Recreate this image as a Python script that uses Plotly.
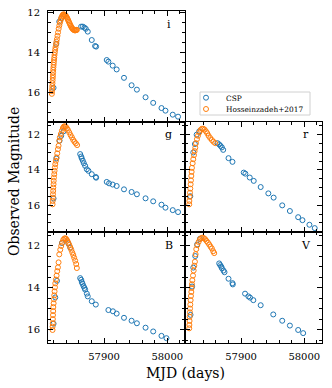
import plotly.graph_objects as go

CSP_COLOR = "#1f77b4"
HOS_COLOR = "#ff7f0e"
FONT = "DejaVu Serif"

# ---- i band
i_csp_mjd = [57820.1, 57824.5, 57829.1, 57832.2, 57863.7, 57866.4, 57869.0, 57871.1, 57874.2,
             57880.5, 57885.8, 57887.4, 57904.2, 57906.8, 57913.6, 57919.9, 57931.5, 57943.5,
             57951.9, 57965.6, 57977.7, 57990.8, 57997.1, 58008.6, 58017.0]
i_csp_mag = [15.75, 13.55, 12.44, 12.28, 12.69, 12.69, 12.74, 12.80, 12.94,
             13.36, 13.66, 13.69, 14.36, 14.44, 14.64, 14.83, 15.25, 15.62,
             15.84, 16.22, 16.50, 16.76, 16.89, 17.09, 17.19]
i_hos_mjd = [57817.4, 57817.6, 57817.9, 57818.1, 57818.4, 57818.6, 57818.9, 57819.1, 57819.4, 57819.6,
             57819.9, 57820.2, 57820.5, 57820.8, 57821.2, 57821.6, 57822.1, 57822.6, 57823.2, 57823.9,
             57824.6, 57825.4, 57826.3, 57827.2, 57828.2, 57829.2, 57830.2, 57831.2, 57832.2, 57833.2,
             57834.2, 57835.2, 57836.2, 57837.2, 57838.2, 57839.2, 57840.2, 57841.2, 57842.2, 57843.2,
             57844.2, 57845.2, 57846.2, 57847.2, 57848.2, 57849.2, 57850.2, 57851.2, 57852.2, 57853.2,
             57854.2, 57855.2, 57856.2, 57857.0]
i_hos_mag = [16.05, 15.92, 15.80, 15.66, 15.52, 15.38, 15.25, 15.12, 14.98, 14.85,
             14.72, 14.60, 14.48, 14.36, 14.24, 14.11, 13.98, 13.85, 13.72, 13.58,
             13.45, 13.32, 13.15, 12.98, 12.80, 12.64, 12.50, 12.38, 12.27, 12.19,
             12.13, 12.09, 12.08, 12.09, 12.11, 12.14, 12.19, 12.24, 12.30, 12.37,
             12.44, 12.51, 12.58, 12.65, 12.71, 12.76, 12.80, 12.83, 12.86, 12.87,
             12.88, 12.87, 12.86, 12.85]

# ---- g band
g_csp_mjd = [57820.1, 57824.5, 57829.6, 57832.2, 57835.9,
             57862.2, 57863.8, 57864.8, 57866.4, 57868.0, 57870.1, 57872.7, 57875.3, 57880.5,
             57886.9, 57887.4, 57904.2, 57907.9, 57913.6, 57919.9, 57931.5, 57943.5, 57951.9,
             57965.6, 57977.7, 57990.8, 57997.1, 58008.6, 58017.0]
g_csp_mag = [15.62, 13.35, 12.34, 12.06, 11.81,
             13.10, 13.24, 13.35, 13.48, 13.62, 13.77, 13.96, 14.05, 14.24,
             14.40, 14.44, 14.68, 14.76, 14.83, 14.91, 15.10, 15.25, 15.38,
             15.61, 15.78, 15.97, 16.14, 16.28, 16.39]
g_hos_mjd = [57818.5, 57818.7, 57819.0, 57819.2, 57819.5, 57819.7, 57820.1, 57820.3, 57820.7, 57821.2,
             57821.7, 57822.3, 57822.8, 57823.8, 57824.9, 57825.9, 57827.0, 57828.0, 57829.1, 57830.1,
             57831.7, 57833.3, 57834.9, 57836.4, 57838.0, 57839.6, 57841.2, 57842.8, 57844.9, 57847.0,
             57849.1, 57851.1, 57853.2, 57855.3, 57857.4]
g_hos_mag = [15.95, 15.76, 15.57, 15.38, 15.19, 15.00, 14.81, 14.62, 14.43, 14.24,
             14.05, 13.86, 13.67, 13.48, 13.29, 13.06, 12.82, 12.63, 12.34, 12.15,
             11.96, 11.77, 11.62, 11.54, 11.52, 11.56, 11.64, 11.73, 11.87, 12.02,
             12.15, 12.29, 12.40, 12.49, 12.59]

# ---- r band
r_csp_mjd = [57819.7, 57824.4, 57827.0, 57829.7, 57833.8,
             57862.7, 57865.4, 57867.5, 57869.6, 57871.7, 57880.1, 57886.4, 57904.2, 57906.8,
             57913.7, 57920.0, 57931.0, 57943.1, 57951.5, 57965.1, 57977.2, 57990.3, 57997.1,
             58008.1, 58016.5]
r_csp_mag = [15.49, 13.01, 12.53, 12.00, 11.81,
             12.48, 12.55, 12.63, 12.72, 12.86, 13.33, 13.54, 14.15, 14.21,
             14.43, 14.62, 14.97, 15.33, 15.57, 16.01, 16.33, 16.68, 16.85,
             17.11, 17.30]
r_hos_mjd = [57818.0, 57818.2, 57818.6, 57819.2, 57819.7, 57820.2, 57820.7, 57821.3, 57821.8, 57822.3,
             57823.4, 57824.4, 57825.5, 57826.5, 57827.6, 57828.6, 57830.2, 57831.8, 57833.9, 57836.0,
             57838.1, 57840.2, 57842.3, 57844.4, 57846.5, 57848.6, 57851.2, 57853.8, 57856.4, 57859.1]
r_hos_mag = [15.95, 15.76, 15.52, 15.29, 15.06, 14.81, 14.59, 14.34, 14.11, 13.88,
             13.62, 13.39, 13.16, 12.93, 12.74, 12.48, 12.25, 12.06, 11.87, 11.73,
             11.66, 11.66, 11.71, 11.81, 11.92, 12.06, 12.19, 12.30, 12.40, 12.48]

# ---- B band
B_csp_mjd = [57820.1, 57822.8, 57825.5, 57833.3, 57843.5, 57846.5,
             57862.2, 57863.8, 57864.8, 57865.9, 57867.5, 57869.0, 57870.1, 57872.7, 57874.2,
             57880.5, 57886.9, 57906.8, 57914.0, 57919.9, 57931.5, 57943.5, 57951.9, 57965.6,
             57977.7, 57990.8, 57998.7]
B_csp_mag = [15.72, 14.47, 13.68, 11.88, 11.90, 12.10,
             13.55, 13.63, 13.74, 13.82, 13.93, 14.02, 14.10, 14.29, 14.42,
             14.65, 14.81, 15.07, 15.13, 15.24, 15.44, 15.58, 15.70, 15.91,
             16.09, 16.30, 16.41]
B_hos_mjd = [57818.5, 57818.6, 57818.8, 57819.0, 57819.2, 57819.5, 57819.7, 57820.2, 57820.7, 57821.2,
             57821.7, 57822.3, 57822.8, 57823.8, 57824.9, 57825.9, 57827.0, 57828.0, 57829.1, 57830.7,
             57832.2, 57833.8, 57835.4, 57837.0, 57838.6, 57840.2, 57841.7, 57843.3, 57844.9, 57846.5,
             57848.1, 57849.7, 57851.3, 57852.7, 57854.3, 57855.9, 57856.9]
B_hos_mag = [16.02, 15.86, 15.70, 15.50, 15.31, 15.12, 14.93, 14.75, 14.56, 14.37,
             14.18, 13.99, 13.80, 13.62, 13.43, 13.22, 13.04, 12.80, 12.42, 12.20,
             12.02, 11.86, 11.73, 11.67, 11.65, 11.69, 11.76, 11.86, 11.97, 12.08,
             12.20, 12.33, 12.45, 12.58, 12.72, 12.88, 13.07]

# ---- V band
V_csp_mjd = [57820.0, 57822.5, 57824.4, 57827.5, 57830.5, 57835.0,
             57865.4, 57867.0, 57868.6, 57869.6, 57872.2, 57873.8, 57880.1, 57886.4, 57886.9,
             57906.3, 57911.6, 57914.2, 57919.4, 57931.0, 57950.9, 57965.1, 57977.2, 57990.3,
             57998.2]
V_csp_mag = [15.30, 13.95, 13.05, 12.50, 11.95, 11.68,
             12.85, 12.93, 13.00, 13.08, 13.19, 13.27, 13.58, 13.79, 13.85,
             14.29, 14.42, 14.48, 14.60, 14.84, 15.28, 15.58, 15.81, 16.02,
             16.17]
V_hos_mjd = [57818.0, 57818.2, 57818.5, 57818.7, 57819.1, 57819.3, 57819.7, 57820.2, 57820.7, 57821.3,
             57821.8, 57822.3, 57822.9, 57823.9, 57825.0, 57826.0, 57827.0, 57828.1, 57829.1, 57830.7,
             57832.8, 57834.9, 57837.0, 57839.1, 57841.2, 57843.3, 57845.4, 57847.5, 57849.6, 57851.7,
             57853.8, 57855.9, 57857.5]
V_hos_mag = [15.94, 15.78, 15.59, 15.39, 15.18, 15.00, 14.81, 14.60, 14.40, 14.21,
             14.02, 13.84, 13.65, 13.43, 13.19, 12.96, 12.77, 12.41, 12.17, 11.98,
             11.83, 11.70, 11.64, 11.62, 11.65, 11.70, 11.78, 11.86, 11.95, 12.05,
             12.14, 12.27, 12.36]

X_RANGE = [57811.3, 58028.0]
ROW_RANGES = [[17.44, 11.91], [17.54, 11.26], [16.64, 11.37]]

# band, x axis, y axis, row, column, data
panels = [
    ("i", "x", "y", 0, 0, i_csp_mjd, i_csp_mag, i_hos_mjd, i_hos_mag),
    ("g", "x2", "y2", 1, 0, g_csp_mjd, g_csp_mag, g_hos_mjd, g_hos_mag),
    ("r", "x3", "y3", 1, 1, r_csp_mjd, r_csp_mag, r_hos_mjd, r_hos_mag),
    ("B", "x4", "y4", 2, 0, B_csp_mjd, B_csp_mag, B_hos_mjd, B_hos_mag),
    ("V", "x5", "y5", 2, 1, V_csp_mjd, V_csp_mag, V_hos_mjd, V_hos_mag),
]

W, H = 332, 388
ML, MR, MT, MB = 48, 10, 11, 45
PW, PH = W - ML - MR, H - MT - MB


def px_x(px):
    return (px - ML) / PW


def px_y(py):
    return (H - MB - py) / PH


fig = go.Figure()
axis_common = dict(
    showline=True, linecolor="black", linewidth=1, mirror="allticks",
    ticks="inside", ticklen=5, tickwidth=1, tickcolor="black",
    showgrid=False, zeroline=False, automargin=False,
    tickfont=dict(family=FONT, size=10, color="black"),
)

for band, xa, ya, row, col, ct, cm, ht, hm in panels:
    fig.add_trace(go.Scatter(
        x=ct, y=cm, mode="markers", xaxis=xa, yaxis=ya, name="CSP",
        legend="legend", showlegend=(band == "i"),
        marker=dict(symbol="circle-open", size=5, color=CSP_COLOR, line=dict(width=1)),
    ))
    fig.add_trace(go.Scatter(
        x=ht, y=hm, mode="markers", xaxis=xa, yaxis=ya, name="Hosseinzadeh+2017",
        legend="legend2", showlegend=(band == "i"),
        marker=dict(symbol="circle-open", size=5, color=HOS_COLOR, line=dict(width=1)),
    ))
    xkey = "xaxis" + xa[1:]
    ykey = "yaxis" + ya[1:]
    y_top = 1 - row / 3
    fig.layout[xkey] = dict(
        axis_common, domain=[0.5 * col, 0.5 * col + 0.5], anchor=ya, range=X_RANGE,
        dtick=100, tick0=0, tickformat="d", showticklabels=(row == 2), ticklabelstandoff=4,
        minor=dict(ticks="inside", ticklen=3, dtick=20, tickcolor="black"),
    )
    fig.layout[ykey] = dict(
        axis_common, domain=[y_top - 1 / 3, y_top], anchor=xa, range=ROW_RANGES[row],
        dtick=2, tick0=0, showticklabels=(col == 0), ticklabelstandoff=5,
        minor=dict(ticks="inside", ticklen=3, dtick=0.5, tickcolor="black"),
    )
    fig.add_annotation(
        text=band, xref=xa + " domain", yref=ya + " domain", x=0.88, y=0.88,
        showarrow=False, xanchor="center", yanchor="middle",
        font=dict(family=FONT, size=11, color="black"),
    )

fig.add_annotation(text="Observed Magnitude", xref="paper", yref="paper",
                   x=px_x(14), y=px_y(182), textangle=-90, showarrow=False,
                   xanchor="center", yanchor="middle",
                   font=dict(family=FONT, size=14, color="black"))
fig.add_annotation(text="MJD (days)", xref="paper", yref="paper",
                   x=0.5, y=px_y(373), showarrow=False,
                   xanchor="center", yanchor="middle",
                   font=dict(family=FONT, size=14, color="black"))

fig.add_shape(type="rect", xref="paper", yref="paper",
              x0=px_x(200), x1=px_x(310), y0=px_y(115), y1=px_y(92),
              line=dict(color="#d0d0d0", width=1), fillcolor="white", layer="below")

# legends in container coordinates so they never push the margins
legend_common = dict(xref="container", yref="container", xanchor="left", yanchor="middle",
                     bgcolor="rgba(0,0,0,0)", borderwidth=0,
                     font=dict(family=FONT, size=7.4, color="black"))
fig.update_layout(
    width=W, height=H, margin=dict(l=ML, r=MR, t=MT, b=MB, autoexpand=False),
    paper_bgcolor="white", plot_bgcolor="white",
    legend=dict(legend_common, x=186 / W, y=1 - 97.7 / H),
    legend2=dict(legend_common, x=186 / W, y=1 - 109 / H),
)

# the page body has a default 8px margin; drop it so the figure fills the window
fig.write_html("out.html", config={"displayModeBar": False},
               post_script="document.body.style.margin = '0';")
